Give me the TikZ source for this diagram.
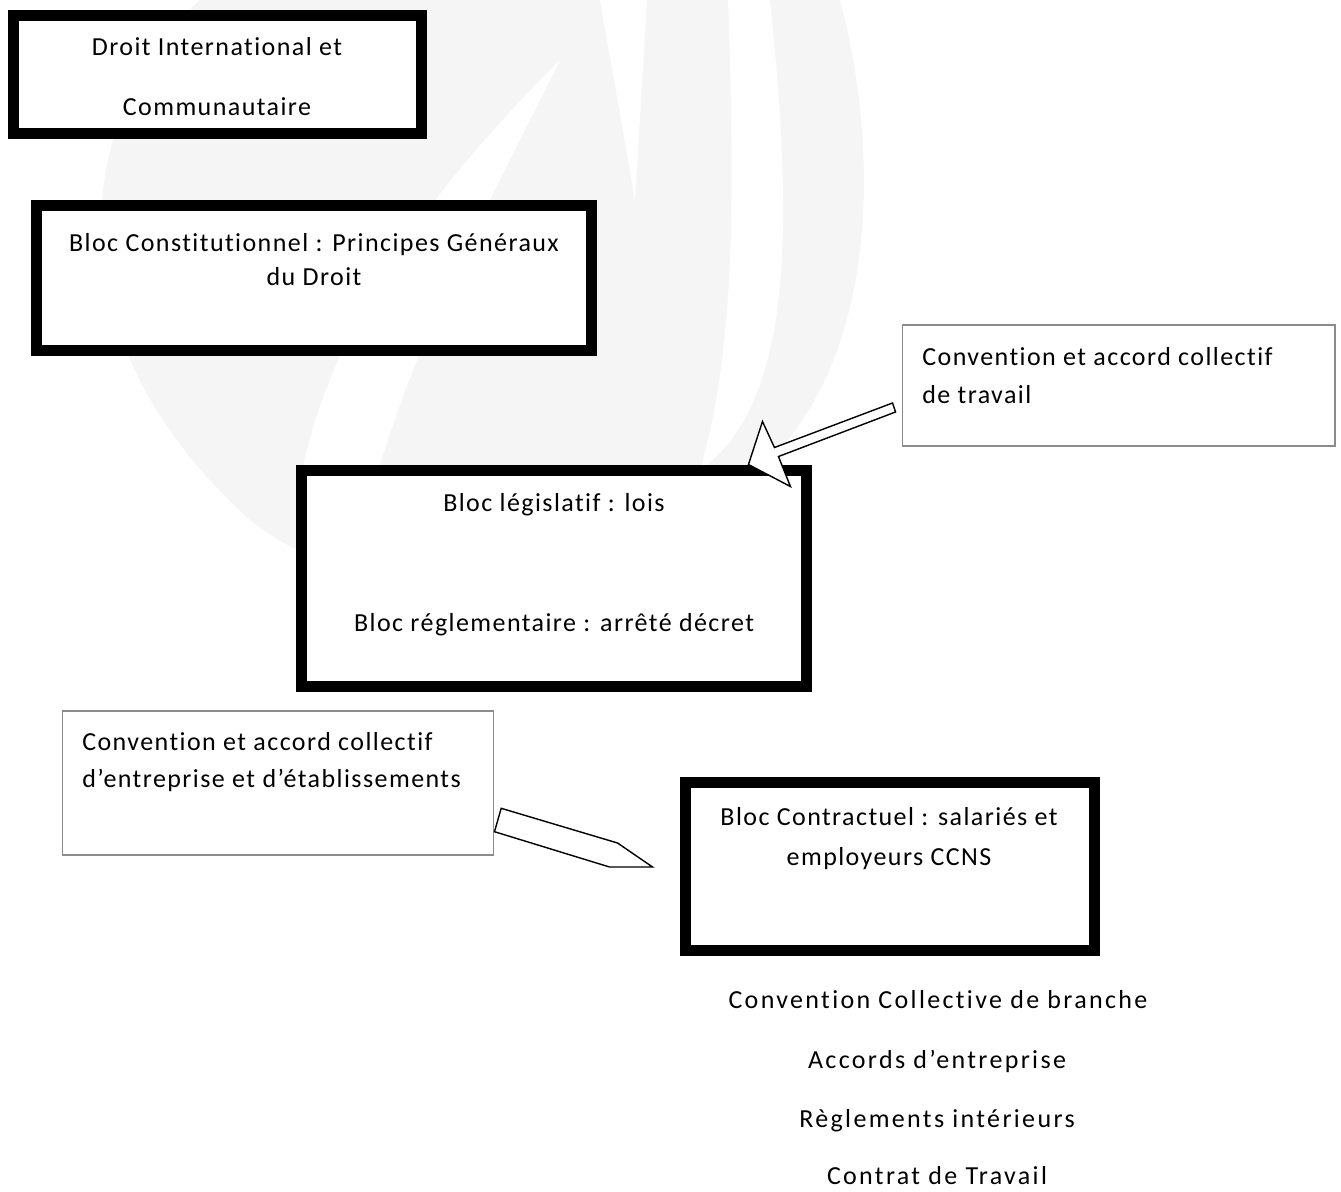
\documentclass[tikz,border=0pt]{standalone}
\usepackage{fontspec}
\setmainfont{Carlito}[LetterSpace=5.5, Ligatures=NoCommon]
\newfontfamily\listfont{Carlito}[LetterSpace=9, Ligatures=NoCommon]
\usetikzlibrary{positioning, calc}
\definecolor{wmgray}{RGB}{245,245,245}
\definecolor{callgray}{RGB}{140,140,140}
\tikzset{
  thickbox/.style={rectangle, draw=black, fill=white, line width=0.22cm, inner sep=0pt},
  callbox/.style={rectangle, draw=callgray, fill=white, line width=0.6pt, inner sep=0pt},
  txt/.style={font=\fontsize{14.8}{18}\selectfont, inner sep=0pt,
    text height=0.75em, text depth=0.25em},
  ltxt/.style={txt, anchor=west},
  listtxt/.style={txt, font=\fontsize{14.8}{18}\listfont, text depth=0.2em},
  pointer/.style={draw=black, fill=white, line width=0.8pt, line join=miter}
}

\begin{document}
\begin{tikzpicture}[x=0.02cm, y=-0.02cm]
  \useasboundingbox (0,0) rectangle (1341,1192);

  % Watermark
  \fill[wmgray] (200,0) .. controls (70,120) and (50,340) .. (250,520)
    .. controls (400,640) and (650,560) .. (760,470)
    .. controls (880,360) and (880,150) .. (840,0) -- cycle;
  \fill[white] (300,480) .. controls (330,330) and (420,200) .. (560,60)
    .. controls (480,220) and (410,350) .. (370,500) -- cycle;
  \fill[white] (728,0) .. controls (735,200) and (735,350) .. (700,470)
    .. controls (800,400) and (790,200) .. (770,0) -- cycle;
  \fill[white] (600,0) -- (647,0) -- (635,200) -- cycle;

  % Blocks
  \node[thickbox, minimum width=8.18cm, minimum height=2.38cm] (b1) at (217.5,74.5) {};
  \node[thickbox, minimum width=11.1cm, minimum height=2.9cm] (b2) at (314,278) {};
  \node[thickbox, minimum width=10.1cm, minimum height=4.32cm] (b3) at (554,578.5) {};
  \node[thickbox, minimum width=8.18cm, minimum height=3.36cm] (b4) at (890,866.5) {};

  % Callouts
  \node[callbox, minimum width=8.66cm, minimum height=2.42cm] (c1) at (1118.5,385.5) {};
  \node[callbox, minimum width=8.64cm, minimum height=2.88cm] (c2) at (278,783) {};

  % Texts
  \node[txt] (t1a) at (217,51) {Droit International et};
  \node[txt] (t1b) at (217,111) {Communautaire};
  \node[txt] (t2a) at (314,247) {Bloc Constitutionnel : Principes Généraux};
  \node[txt] (t2b) at (314,281) {du Droit};
  \node[txt] (t3a) at (554,507) {Bloc législatif : lois};
  \node[txt] (t3b) at (554,627) {Bloc réglementaire : arrêté décret};
  \node[txt] (t4a) at (889,821) {Bloc Contractuel : salariés et};
  \node[txt] (t4b) at (889,861) {employeurs CCNS};
  \node[ltxt] (tc1a) at (922,361) {Convention et accord collectif};
  \node[ltxt] (tc1b) at (922,399) {de travail};
  \node[ltxt] (tc2a) at (82,746) {Convention et accord collectif};
  \node[ltxt] (tc2b) at (82,783) {d’entreprise et d’établissements};

  % List
  \node[listtxt] (l1) at (938,1004) {Convention Collective de branche};
  \node[listtxt] (l2) at (937,1064) {Accords d’entreprise};
  \node[listtxt] (l3) at (937,1123) {Règlements intérieurs};
  \node[listtxt] (l4) at (937,1180) {Contrat de Travail};

  % Pointers
  \draw[pointer] ($(c1.west)+(-9,17.5)$) -- ($(b3.north east)+(-37.5,-17.5)$)
    -- ($(b3.north east)+(-49.5,-43.5)$) -- ($(b3.north east)+(-63.5,-0.5)$)
    -- ($(b3.north east)+(-21.5,21.5)$) -- ($(b3.north east)+(-33.5,-8.5)$)
    -- ($(c1.west)+(-6,26.5)$) -- cycle;
  \draw[pointer] ($(c2.east)+(6.7,25.3)$) -- ($(b4.west)+(-62.5,-23.5)$)
    -- ($(b4.west)+(-27.5,0.5)$) -- ($(b4.west)+(-70.5,0.5)$)
    -- ($(c2.east)+(0,48.7)$) -- cycle;

\end{tikzpicture}
\end{document}
